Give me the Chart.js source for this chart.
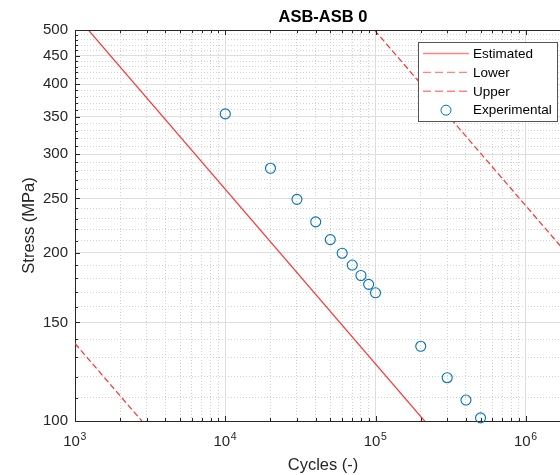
<!DOCTYPE html>
<html>
<head>
<meta charset="utf-8">
<script src="https://cdn.jsdelivr.net/npm/chart.js@4.4.1/dist/chart.umd.min.js"></script>
<style>
html, body { margin: 0; padding: 0; background: #fff; overflow: hidden; }
#wrap { width: 600px; height: 475px; }
</style>
</head>
<body>
<div id="wrap"><canvas id="sn-canvas"></canvas></div>
<script>
// values
const cycles = [1e4, 2e4, 3e4, 4e4, 5e4, 6e4, 7e4, 8e4, 9e4, 1e5, 2e5, 3e5, 4e5, 5e5];
const stress = [354, 283, 249, 227, 211, 199.5, 190, 182, 175.5, 169.5, 136, 119.5, 109, 101.3];

const estCycles = [1000, 250000];
const estStress = [533, 95];
const lowCycles = [1000, 3000];
const lowStress = [137.6, 97.7];
const upCycles = [90000, 2000000];
const upStress = [514, 195.4];

const xMajor = [1e3, 1e4, 1e5, 1e6];
const xExp = ["3", "4", "5", "6"];
const yMajor = [100, 150, 200, 250, 300, 350, 400, 450, 500];
const yLabels = ["100", "150", "200", "250", "300", "350", "400", "450", "500"];

// minor grid positions (2..9 per decade, every 10 MPa)
let xMinor = [];
for (let d = 1e3; d <= 1e6; d *= 10) {
	for (let k = 2; k <= 9; k++) {
		if (k * d <= 2e6) xMinor.push(k * d);
	}
}
let yMinor = [];
for (let v = 110; v < 500; v += 10) {
	if (v % 50 != 0) yMinor.push(v);
}

const AX = "#262626";
const RED = "#ff3030";
const RED_KEY = "#ff8585";
const BLUE = "#0072BD";
const FONT = "'Liberation Sans', Arial, sans-serif";

function pairs(xs, ys) {
	return xs.map((x, i) => ({ x: x, y: ys[i] }));
}

const frame = {
	id: "frame",
	afterDatasetsDraw(chart) {
		const ctx = chart.ctx;
		const a = chart.chartArea;
		const x = chart.scales.x, y = chart.scales.y;
		ctx.save();
		ctx.strokeStyle = AX;
		ctx.lineWidth = 1;
		ctx.beginPath();
		ctx.moveTo(a.left, a.top + 0.5);
		ctx.lineTo(a.right, a.top + 0.5);
		for (const v of yMajor.concat(yMinor)) {
			const p = Math.round(y.getPixelForValue(v)) + 0.5;
			const len = yMajor.includes(v) ? 5 : 3;
			ctx.moveTo(a.left, p);
			ctx.lineTo(a.left + len, p);
		}
		for (const v of xMajor.concat(xMinor)) {
			const p = Math.round(x.getPixelForValue(v)) + 0.5;
			const len = xMajor.includes(v) ? 5 : 3;
			ctx.moveTo(p, a.bottom);
			ctx.lineTo(p, a.bottom - len);
			ctx.moveTo(p, a.top);
			ctx.lineTo(p, a.top + len);
		}
		ctx.stroke();

		// x tick labels as 10 with a raised exponent
		ctx.fillStyle = AX;
		ctx.textBaseline = "alphabetic";
		ctx.textAlign = "left";
		xMajor.forEach((v, i) => {
			const px = x.getPixelForValue(v);
			ctx.font = "15px " + FONT;
			const wb = ctx.measureText("10").width;
			ctx.font = "10.5px " + FONT;
			const we = ctx.measureText(xExp[i]).width;
			const x0 = px - (wb + we) / 2 - 0.5;
			ctx.font = "15px " + FONT;
			ctx.fillText("10", x0, 446);
			ctx.font = "10.5px " + FONT;
			ctx.fillText(xExp[i], x0 + wb + 0.5, 440);
		});

		// legend box
		const bx = 418.5, by = 42.5, bw = 139, bh = 79;
		ctx.fillStyle = "#fff";
		ctx.fillRect(bx, by, bw, bh);
		ctx.strokeStyle = "#555";
		ctx.lineWidth = 1;
		ctx.strokeRect(bx, by, bw, bh);
		ctx.font = "13.5px " + FONT;
		ctx.textBaseline = "middle";
		chart.data.datasets.forEach((ds, i) => {
			const ly = 53.5 + i * 18.9;
			ctx.beginPath();
			if (ds.showLine) {
				ctx.strokeStyle = RED_KEY;
				ctx.lineWidth = 1.4;
				ctx.setLineDash(ds.borderDash ? [8, 4] : []);
				ctx.moveTo(423, ly);
				ctx.lineTo(469, ly);
				ctx.stroke();
				ctx.setLineDash([]);
			} else {
				ctx.strokeStyle = BLUE;
				ctx.lineWidth = 1;
				ctx.arc(446, ly, 5, 0, Math.PI * 2);
				ctx.stroke();
			}
			ctx.fillStyle = "#000";
			ctx.fillText(ds.label, 473, ly + 0.5);
		});

		// title
		ctx.font = "bold 16.5px " + FONT;
		ctx.fillStyle = "#000";
		ctx.textAlign = "center";
		ctx.fillText("ASB-ASB 0", (a.left + a.right) / 2, 17);
		ctx.restore();
	}
};

let graph = new Chart("sn-canvas", {
	type: "scatter",
	data: {
		datasets: [{
			label: "Estimated",
			data: pairs(estCycles, estStress),
			showLine: true,
			borderColor: RED,
			borderWidth: 1.2,
			pointRadius: 0
		},
		{
			label: "Lower",
			data: pairs(lowCycles, lowStress),
			showLine: true,
			borderColor: RED,
			borderWidth: 1.2,
			borderDash: [6, 3],
			pointRadius: 0
		},
		{
			label: "Upper",
			data: pairs(upCycles, upStress),
			showLine: true,
			borderColor: RED,
			borderWidth: 1.2,
			borderDash: [6, 3],
			pointRadius: 0
		},
		{
			label: "Experimental",
			data: pairs(cycles, stress),
			showLine: false,
			borderColor: BLUE,
			backgroundColor: "rgba(0,0,0,0)",
			borderWidth: 1.1,
			pointRadius: 5,
			clip: false
		}]
	},
	options: {
		responsive: true,
		maintainAspectRatio: false,
		animation: false,
		layout: { padding: { top: 30, left: 0, right: 29, bottom: 0 } },
		plugins: {
			legend: { display: false },
			tooltip: { enabled: false }
		},
		scales: {
			x: {
				type: "logarithmic",
				position: "bottom",
				min: 1000,
				max: 2e6,
				afterBuildTicks: s => { s.ticks = xMajor.map(v => ({ value: v })); },
				afterFit: s => { s.height = 54; },
				ticks: { display: false },
				grid: { color: "#dedede", drawTicks: false },
				border: { color: AX },
				title: {
					display: true,
					text: "Cycles (-)",
					color: AX,
					font: { family: FONT, size: 16.5 },
					padding: { top: 0, bottom: 0 }
				}
			},
			xMinor: {
				type: "logarithmic",
				position: "bottom",
				min: 1000,
				max: 2e6,
				afterBuildTicks: s => { s.ticks = xMinor.map(v => ({ value: v })); },
				afterFit: s => { s.height = 0; },
				ticks: { display: false },
				grid: { color: "#d2d2d2", drawTicks: false },
				border: { display: false, dash: [1, 2] }
			},
			y: {
				type: "logarithmic",
				position: "left",
				min: 100,
				max: 500,
				afterBuildTicks: s => { s.ticks = yMajor.map(v => ({ value: v })); },
				afterFit: s => { s.width = 75; },
				ticks: {
					autoSkip: false,
					padding: 7,
					color: AX,
					font: { family: FONT, size: 15 },
					callback: (v, i) => yLabels[i]
				},
				grid: { color: "#dedede", drawTicks: false },
				border: { color: AX },
				title: {
					display: true,
					text: "Stress (MPa)",
					color: AX,
					font: { family: FONT, size: 16.5 },
					padding: { top: 19.5, bottom: 0 }
				}
			},
			yMinor: {
				type: "logarithmic",
				position: "left",
				min: 100,
				max: 500,
				afterBuildTicks: s => { s.ticks = yMinor.map(v => ({ value: v })); },
				afterFit: s => { s.width = 0; },
				ticks: { display: false },
				grid: { color: "#d2d2d2", drawTicks: false },
				border: { display: false, dash: [1, 2] }
			}
		}
	},
	plugins: [frame]
});
</script>
</body>
</html>
